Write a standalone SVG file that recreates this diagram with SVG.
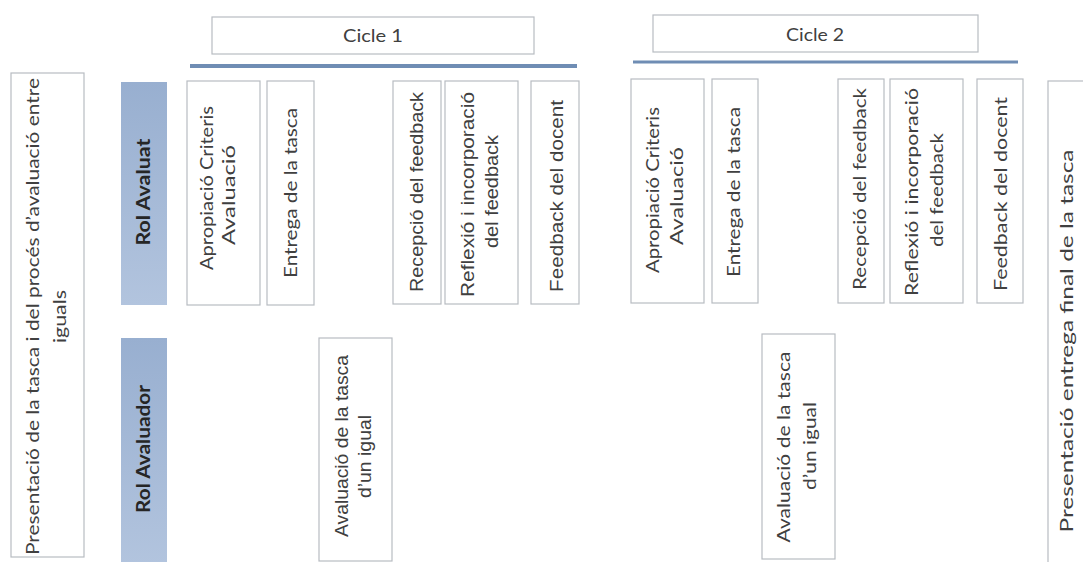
<svg xmlns="http://www.w3.org/2000/svg" width="1083" height="562" viewBox="0 0 1083 562">
<defs>
<linearGradient id="rolg" x1="0" y1="0" x2="0" y2="1">
<stop offset="0" stop-color="#98afd0"/>
<stop offset="1" stop-color="#b2c4de"/>
</linearGradient>
<style>
.box{fill:#ffffff;stroke:#b8bcc2;stroke-width:1.2}
.rol{fill:url(#rolg);stroke:none}
.t{font-family:Lato,"Open Sans",sans-serif;font-size:18px;fill:#404040;text-anchor:middle}
.a{font-family:"Liberation Sans",Arial,sans-serif;font-size:18px;fill:#404040;text-anchor:middle}
.b{font-family:Lato,"Open Sans",sans-serif;font-size:18px;font-weight:bold;fill:#262626;text-anchor:middle}
.bar{stroke:#6f8db4;fill:none}
</style>
</defs>
<rect width="1083" height="562" fill="#ffffff"/>

<g id="connectors">
<line class="bar" x1="190" y1="66" x2="577" y2="66" stroke-width="4"/>
<line class="bar" x1="633" y1="62" x2="1018" y2="62" stroke-width="3"/>
</g>

<g id="cicle1">
<rect class="box" x="212" y="17" width="322" height="37"/>
<text class="t" x="373" y="42" textLength="60" lengthAdjust="spacingAndGlyphs">Cicle 1</text>
</g>
<g id="cicle2">
<rect class="box" x="653" y="15" width="325" height="37"/>
<text class="t" x="815" y="41" textLength="58" lengthAdjust="spacingAndGlyphs">Cicle 2</text>
</g>

<g id="presentacio">
<rect class="box" x="11" y="73" width="73" height="484"/>
<text class="t" transform="translate(39,316.5) rotate(-90)" textLength="477" lengthAdjust="spacingAndGlyphs">Presentació de la tasca i del procés d’avaluació entre</text>
<text class="t" transform="translate(66,316.5) rotate(-90)" textLength="53" lengthAdjust="spacingAndGlyphs">iguals</text>
</g>

<g id="rol-avaluat">
<rect class="rol" x="121" y="82" width="46" height="223"/>
<text class="b" transform="translate(150,192) rotate(-90)" textLength="107" lengthAdjust="spacingAndGlyphs">Rol Avaluat</text>
</g>
<g id="rol-avaluador">
<rect class="rol" x="121" y="338" width="46" height="226"/>
<text class="b" transform="translate(150,449) rotate(-90)" textLength="128" lengthAdjust="spacingAndGlyphs">Rol Avaluador</text>
</g>

<g id="c1-apropiacio">
<rect class="box" x="187" y="81" width="73" height="224"/>
<text class="t" transform="translate(213,188) rotate(-90)" textLength="164" lengthAdjust="spacingAndGlyphs">Apropiació Criteris</text>
<text class="t" transform="translate(235,195) rotate(-90)" textLength="100" lengthAdjust="spacingAndGlyphs">Avaluació</text>
</g>
<g id="c1-entrega">
<rect class="box" x="267" y="81" width="47" height="224"/>
<text class="t" transform="translate(297,193) rotate(-90)" textLength="170" lengthAdjust="spacingAndGlyphs">Entrega de la tasca</text>
</g>
<g id="c1-avaluacio">
<rect class="box" x="319" y="338" width="73" height="223"/>
<text class="a" transform="translate(348,446) rotate(-90)" textLength="182" lengthAdjust="spacingAndGlyphs">Avaluació de la tasca</text>
<text class="a" transform="translate(371,456.5) rotate(-90)" textLength="83" lengthAdjust="spacingAndGlyphs">d’un igual</text>
</g>
<g id="c1-recepcio">
<rect class="box" x="393" y="81" width="48" height="223"/>
<text class="a" transform="translate(423,192) rotate(-90)" textLength="200" lengthAdjust="spacingAndGlyphs">Recepció del feedback</text>
</g>
<g id="c1-reflexio">
<rect class="box" x="445" y="81" width="73" height="223"/>
<text class="a" transform="translate(474,194.5) rotate(-90)" textLength="205" lengthAdjust="spacingAndGlyphs">Reflexió i incorporació</text>
<text class="a" transform="translate(498,191.5) rotate(-90)" textLength="113" lengthAdjust="spacingAndGlyphs">del feedback</text>
</g>
<g id="c1-feedback-docent">
<rect class="box" x="531" y="81" width="48" height="223"/>
<text class="a" transform="translate(563,196) rotate(-90)" textLength="192" lengthAdjust="spacingAndGlyphs">Feedback del docent</text>
</g>

<g id="c2-apropiacio">
<rect class="box" x="631" y="79" width="73" height="224"/>
<text class="t" transform="translate(659,190) rotate(-90)" textLength="166" lengthAdjust="spacingAndGlyphs">Apropiació Criteris</text>
<text class="t" transform="translate(683,196) rotate(-90)" textLength="98" lengthAdjust="spacingAndGlyphs">Avaluació</text>
</g>
<g id="c2-entrega">
<rect class="box" x="712" y="79" width="46" height="224"/>
<text class="t" transform="translate(740,192) rotate(-90)" textLength="170" lengthAdjust="spacingAndGlyphs">Entrega de la tasca</text>
</g>
<g id="c2-avaluacio">
<rect class="box" x="762" y="334" width="73" height="225"/>
<text class="t" transform="translate(790,447) rotate(-90)" textLength="191" lengthAdjust="spacingAndGlyphs">Avaluació de la tasca</text>
<text class="t" transform="translate(816,446) rotate(-90)" textLength="88" lengthAdjust="spacingAndGlyphs">d’un igual</text>
</g>
<g id="c2-recepcio">
<rect class="box" x="838" y="79" width="46" height="224"/>
<text class="t" transform="translate(866,189) rotate(-90)" textLength="202" lengthAdjust="spacingAndGlyphs">Recepció del feedback</text>
</g>
<g id="c2-reflexio">
<rect class="box" x="890" y="79" width="73" height="224"/>
<text class="t" transform="translate(918,192) rotate(-90)" textLength="208" lengthAdjust="spacingAndGlyphs">Reflexió i incorporació</text>
<text class="t" transform="translate(943,190) rotate(-90)" textLength="114" lengthAdjust="spacingAndGlyphs">del feedback</text>
</g>
<g id="c2-feedback-docent">
<rect class="box" x="977" y="79" width="46" height="224"/>
<text class="t" transform="translate(1007,194) rotate(-90)" textLength="194" lengthAdjust="spacingAndGlyphs">Feedback del docent</text>
</g>

<g id="presentacio-final">
<rect class="box" x="1048" y="81" width="45" height="490"/>
<text class="t" transform="translate(1073,341) rotate(-90)" textLength="383" lengthAdjust="spacingAndGlyphs">Presentació entrega final de la tasca</text>
</g>
</svg>
